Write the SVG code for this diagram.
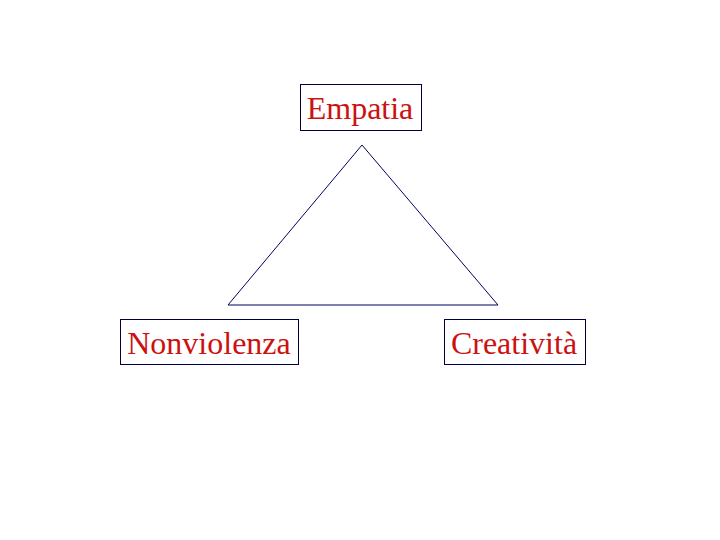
<svg xmlns="http://www.w3.org/2000/svg" width="720" height="540" viewBox="0 0 720 540">
<style>
.box{fill:#fff;stroke:#000040;stroke-width:1}
.lbl{font-family:"Liberation Serif",serif;font-size:32px;fill:#cc1111;text-anchor:middle}
.edge{fill:none;stroke:#000060;stroke-width:1}
</style>
<rect width="720" height="540" fill="#fff"/>
<g id="connectors">
<polygon class="edge" points="362,145 228,305 498,305"/>
</g>
<g id="empatia">
<rect class="box" x="300.500" y="84.500" width="121" height="46"/>
<text class="lbl" x="360" y="119">Empatia</text>
</g>
<g id="nonviolenza">
<rect class="box" x="120.500" y="319.500" width="178" height="45"/>
<text class="lbl" x="209" y="354">Nonviolenza</text>
</g>
<g id="creativita">
<rect class="box" x="444.500" y="319.500" width="141" height="45"/>
<text class="lbl" x="514" y="354">Creatività</text>
</g>
</svg>
